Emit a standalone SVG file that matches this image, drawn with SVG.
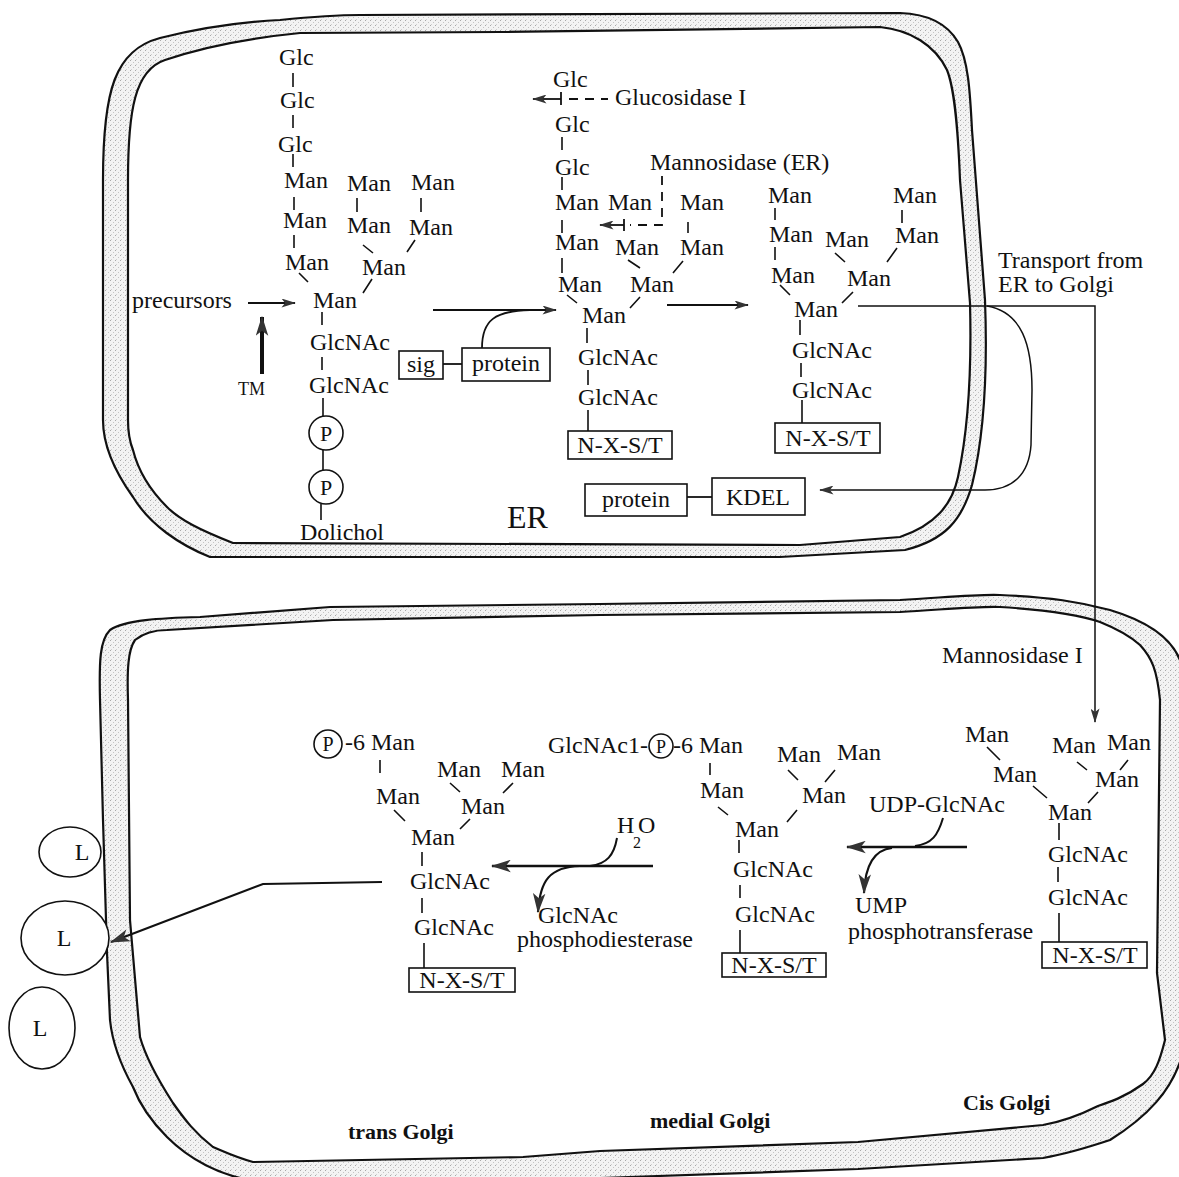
<svg xmlns="http://www.w3.org/2000/svg" width="1179" height="1177" viewBox="0 0 1179 1177">
<defs>
<style>
.t{font-family:"Liberation Serif","Times New Roman",serif;font-size:24px;fill:#111}
.s{font-size:22px}
.c{text-anchor:middle}
.bd{font-weight:bold;font-size:22px}
.b{stroke:#111;stroke-width:1.6;fill:none}
.box{fill:#fff;stroke:#111;stroke-width:1.6}
.ln{stroke:#111;stroke-width:1.8;fill:none}
.dash{stroke:#111;stroke-width:1.8;fill:none;stroke-dasharray:9,7}
.mem{stroke:#111;stroke-width:2.2}
</style>
<pattern id="stip" width="5" height="5" patternUnits="userSpaceOnUse">
<rect width="5" height="5" fill="#f3f3f3"/><rect x="0" y="0" width="1" height="1" fill="#a8a8a8"/><rect x="3" y="2" width="1" height="1" fill="#c4c4c4"/><rect x="1" y="4" width="1" height="1" fill="#d0d0d0"/>
</pattern>
<marker id="ah" viewBox="0 0 16 10" refX="15" refY="5" markerWidth="15" markerHeight="9" markerUnits="userSpaceOnUse" orient="auto">
<path d="M0,0 L16,5 L0,10 L4,5 z" fill="#333"/>
</marker>
<marker id="ahL" viewBox="0 0 16 10" refX="15" refY="5" markerWidth="20" markerHeight="13" markerUnits="userSpaceOnUse" orient="auto">
<path d="M0,0 L16,5 L0,10 L4,5 z" fill="#333"/>
</marker>
</defs>
<rect width="1179" height="1177" fill="#fff"/>

<g id="er-membrane">
<path class="mem" fill="url(#stip)" d="M103,420 L103,180 C103,90 115,50 160,38 C200,28 240,22 280,20 C310,17 330,15 360,15 L900,13 C930,14 948,25 958,42 C968,60 970,90 972,130 L985,300 C988,380 983,440 972,485 C962,520 945,540 905,550 L780,557 L210,557 C180,545 150,525 133,497 C110,465 103,440 103,420 Z"/>
<path class="mem" fill="#fff" d="M128,420 L128,180 C128,110 135,70 165,60 C200,48 250,38 300,33 L500,32 L880,27 C910,30 935,45 947,70 C955,90 958,130 960,180 L970,303 C972,380 966,440 958,477 C952,505 935,525 900,537 L800,545 L233,543 C200,530 180,520 167,507 C150,490 138,470 133,450 C129,440 128,430 128,420 Z"/>
</g>

<g id="golgi-membrane">
<path class="mem" fill="url(#stip)" d="M100,700 C99,660 100,640 110,630 C125,620 160,618 200,617 L330,607 L600,604 L900,600 C950,597 980,594 1000,595 C1050,597 1080,602 1110,610 C1150,622 1172,640 1180,660 L1195,700 L1195,1050 L1180,1062 C1170,1090 1150,1115 1110,1140 C1080,1150 1060,1155 1043,1158 L858,1169 L600,1178 L250,1180 C220,1175 190,1160 167,1137 C150,1120 140,1105 133,1087 C118,1060 112,1040 110,1020 L107,953 L103,820 Z"/>
<path class="mem" fill="#fff" d="M128,700 C127,670 128,650 135,640 C145,632 155,630 167,630 L333,620 L600,615 L900,612 C950,609 980,606 1000,607 C1050,610 1080,615 1100,622 C1120,630 1130,636 1140,645 C1152,658 1157,670 1160,700 L1157,973 L1165,1040 C1160,1060 1155,1075 1143,1084 C1125,1097 1110,1102 1098,1106 C1080,1115 1060,1122 1043,1125 L858,1142 L600,1151 L523,1157 L253,1162 C235,1157 225,1152 213,1147 C195,1133 185,1120 173,1103 C155,1075 145,1055 140,1037 L130,920 Z"/>
</g>

<g id="lysosomes">
<ellipse class="box" cx="70" cy="852" rx="31" ry="25"/><text class="t c" x="82" y="860">L</text>
<ellipse class="box" cx="65" cy="938" rx="44" ry="37"/><text class="t c" x="64" y="946">L</text>
<ellipse class="box" cx="42" cy="1028" rx="33" ry="41"/><text class="t c" x="40" y="1036">L</text>
</g>

<g id="connectors">
<line class="ln" x1="248" y1="303" x2="295" y2="303" marker-end="url(#ah)"/>
<line stroke="#111" stroke-width="4" x1="262" y1="374" x2="262" y2="317" marker-end="url(#ahL)"/>
<line class="ln" x1="433" y1="310" x2="556" y2="310" marker-end="url(#ah)"/>
<path class="ln" d="M482,348 C482,320 495,311 530,310"/>
<line class="ln" x1="443" y1="364" x2="462" y2="364"/>
<line class="ln" x1="561" y1="99" x2="533" y2="99" marker-end="url(#ah)"/>
<line class="ln" x1="561" y1="92" x2="561" y2="105"/>
<line class="dash" x1="569" y1="99" x2="608" y2="99"/>
<path class="dash" d="M662,176 L662,225 L630,225"/>
<line class="ln" x1="624" y1="219" x2="624" y2="231"/>
<line class="ln" x1="624" y1="225" x2="600" y2="225" marker-end="url(#ah)"/>
<line class="ln" x1="667" y1="305" x2="748" y2="305" marker-end="url(#ah)"/>
<path stroke="#111" stroke-width="1.5" fill="none" d="M858,306 L1095,306 L1095,722" marker-end="url(#ah)"/>
<path stroke="#111" stroke-width="1.5" fill="none" d="M987,306 C1022,312 1032,345 1032,390 L1031,445 C1029,475 1012,490 985,490 L820,490" marker-end="url(#ah)"/>
<line class="ln" x1="687" y1="497" x2="712" y2="497"/>
<line stroke="#111" stroke-width="2.4" x1="967" y1="847" x2="847" y2="847" marker-end="url(#ahL)"/>
<path stroke="#111" stroke-width="2" fill="none" d="M943,818 C938,835 932,844 915,846"/>
<path stroke="#111" stroke-width="2.2" fill="none" d="M892,848 C872,850 865,868 864,893" marker-end="url(#ahL)"/>
<line stroke="#111" stroke-width="2.4" x1="653" y1="866" x2="492" y2="866" marker-end="url(#ahL)"/>
<path stroke="#111" stroke-width="2" fill="none" d="M617,838 C614,855 607,864 590,866"/>
<path stroke="#111" stroke-width="2.2" fill="none" d="M580,866 C550,867 540,880 538,912" marker-end="url(#ahL)"/>
<polyline stroke="#111" stroke-width="2.2" fill="none" points="382,882 263,884 111,942" marker-end="url(#ahL)"/>
</g>

<g id="er-precursor">
<text class="t" x="279" y="65">Glc</text>
<text class="t" x="280" y="108">Glc</text>
<text class="t" x="278" y="152">Glc</text>
<text class="t" x="284" y="188">Man</text>
<text class="t" x="347" y="191">Man</text>
<text class="t" x="411" y="190">Man</text>
<text class="t" x="283" y="228">Man</text>
<text class="t" x="347" y="233">Man</text>
<text class="t" x="409" y="235">Man</text>
<text class="t" x="285" y="270">Man</text>
<text class="t" x="362" y="275">Man</text>
<text class="t" x="313" y="308">Man</text>
<text class="t" x="310" y="350">GlcNAc</text>
<text class="t" x="309" y="393">GlcNAc</text>
<circle class="box" cx="326" cy="433" r="17"/><text class="t c s" x="326" y="441">P</text>
<circle class="box" cx="326" cy="487" r="17"/><text class="t c s" x="326" y="495">P</text>
<text class="t" x="300" y="540">Dolichol</text>
<path class="b" d="M293,73V87 M293,115V128 M293,154V167 M294,197V210 M357,198V212 M421,198V212 M294,235V248 M363,245L373,253 M415,240L407,252 M299,273L308,282 M372,279L363,293 M322,312V325 M322,357V370 M323,398V416 M323,450V470 M321,504V520"/>
</g>
<g id="label-precursors"><text class="t" x="132" y="308">precursors</text></g>
<g id="label-tm"><text class="t" x="238" y="395" style="font-size:18px">TM</text></g>
<g id="sig"><rect class="box" x="399" y="351" width="44" height="28"/><text class="t c" x="421" y="372">sig</text></g>
<g id="protein-1"><rect class="box" x="462" y="348" width="88" height="33"/><text class="t c" x="506" y="371">protein</text></g>

<g id="er-glucosidase">
<text class="t" x="553" y="87">Glc</text>
<text class="t" x="615" y="105">Glucosidase I</text>
<text class="t" x="555" y="132">Glc</text>
<text class="t" x="555" y="175">Glc</text>
<text class="t" x="650" y="170">Mannosidase (ER)</text>
<text class="t" x="555" y="210">Man</text>
<text class="t" x="608" y="210">Man</text>
<text class="t" x="680" y="210">Man</text>
<text class="t" x="555" y="250">Man</text>
<text class="t" x="615" y="255">Man</text>
<text class="t" x="680" y="255">Man</text>
<text class="t" x="558" y="292">Man</text>
<text class="t" x="630" y="292">Man</text>
<text class="t" x="582" y="323">Man</text>
<text class="t" x="578" y="365">GlcNAc</text>
<text class="t" x="578" y="405">GlcNAc</text>
<path class="b" d="M562,137V150 M562,177V190 M562,220V233 M688,222V233 M562,258V273 M628,260L640,268 M683,261L673,273 M567,295L577,303 M640,297L630,308 M587,328V343 M588,370V385 M588,410V431"/>
<rect class="box" x="568" y="431" width="104" height="28"/><text class="t c" x="620" y="453">N-X-S/T</text>
</g>

<g id="er-trimmed">
<text class="t" x="768" y="203">Man</text>
<text class="t" x="893" y="203">Man</text>
<text class="t" x="769" y="242">Man</text>
<text class="t" x="825" y="247">Man</text>
<text class="t" x="895" y="243">Man</text>
<text class="t" x="771" y="283">Man</text>
<text class="t" x="847" y="286">Man</text>
<text class="t" x="794" y="317">Man</text>
<text class="t" x="792" y="358">GlcNAc</text>
<text class="t" x="792" y="398">GlcNAc</text>
<path class="b" d="M775,208V220 M902,210V223 M775,247V260 M835,253L845,262 M897,248L887,262 M780,285L790,295 M853,292L842,303 M800,320V335 M801,363V377 M802,400V423"/>
<rect class="box" x="775" y="423" width="105" height="30"/><text class="t c" x="828" y="446">N-X-S/T</text>
</g>
<g id="label-transport"><text class="t" x="998" y="268">Transport from</text><text class="t" x="998" y="292">ER to Golgi</text></g>
<g id="protein-2"><rect class="box" x="585" y="484" width="102" height="32"/><text class="t c" x="636" y="507">protein</text></g>
<g id="kdel"><rect class="box" x="712" y="478" width="93" height="37"/><text class="t c" x="758" y="505">KDEL</text></g>
<g id="label-er"><text class="t" x="507" y="528" style="font-size:32px">ER</text></g>

<g id="label-mannosidase-i"><text class="t" x="942" y="663">Mannosidase I</text></g>

<g id="trans-structure">
<circle class="box" cx="328" cy="744" r="14"/><text class="t c" x="328" y="751" style="font-size:20px">P</text>
<text class="t" x="345" y="750">-6 Man</text>
<text class="t" x="437" y="777">Man</text>
<text class="t" x="501" y="777">Man</text>
<text class="t" x="376" y="804">Man</text>
<text class="t" x="461" y="814">Man</text>
<text class="t" x="411" y="845">Man</text>
<text class="t" x="410" y="889">GlcNAc</text>
<text class="t" x="414" y="935">GlcNAc</text>
<path class="b" d="M380,760V773 M450,783L460,792 M513,783L503,793 M394,810L405,821 M470,819L460,829 M422,852V866 M422,898V913 M424,943V968"/>
<rect class="box" x="409" y="968" width="106" height="24"/><text class="t c" x="462" y="988">N-X-S/T</text>
</g>

<g id="label-h2o"><text class="t" x="617" y="833">H</text><text class="t" x="633" y="848" style="font-size:16px">2</text><text class="t" x="638" y="833">O</text></g>
<g id="label-phosphodiesterase"><text class="t" x="538" y="923">GlcNAc</text><text class="t" x="517" y="947">phosphodiesterase</text></g>

<g id="medial-structure">
<text class="t" x="648" y="753" style="text-anchor:end">GlcNAc1-</text>
<circle class="box" cx="661" cy="746" r="12"/><text class="t c" x="661" y="753" style="font-size:18px">P</text>
<text class="t" x="673" y="753">-6 Man</text>
<text class="t" x="700" y="798">Man</text>
<text class="t" x="777" y="762">Man</text>
<text class="t" x="837" y="760">Man</text>
<text class="t" x="802" y="803">Man</text>
<text class="t" x="735" y="837">Man</text>
<text class="t" x="733" y="877">GlcNAc</text>
<text class="t" x="735" y="922">GlcNAc</text>
<path class="b" d="M710,763V775 M788,770L798,780 M835,770L825,782 M718,807L728,815 M797,810L787,822 M739,840V853 M740,885V898 M740,930V953"/>
<rect class="box" x="722" y="953" width="104" height="24"/><text class="t c" x="774" y="973">N-X-S/T</text>
</g>

<g id="label-udp"><text class="t" x="869" y="812">UDP-GlcNAc</text></g>
<g id="label-phosphotransferase"><text class="t" x="855" y="913">UMP</text><text class="t" x="848" y="939">phosphotransferase</text></g>

<g id="cis-structure">
<text class="t" x="965" y="742">Man</text>
<text class="t" x="993" y="782">Man</text>
<text class="t" x="1052" y="753">Man</text>
<text class="t" x="1107" y="750">Man</text>
<text class="t" x="1095" y="787">Man</text>
<text class="t" x="1048" y="820">Man</text>
<text class="t" x="1048" y="862">GlcNAc</text>
<text class="t" x="1048" y="905">GlcNAc</text>
<path class="b" d="M987,747L1000,760 M1033,786L1047,798 M1077,762L1087,770 M1128,760L1120,770 M1098,792L1088,803 M1059,823V840 M1058,867V882 M1059,913V942"/>
<rect class="box" x="1042" y="942" width="105" height="26"/><text class="t c" x="1095" y="963">N-X-S/T</text>
</g>

<g id="golgi-labels">
<text class="t bd" x="348" y="1139">trans Golgi</text>
<text class="t bd" x="650" y="1128">medial Golgi</text>
<text class="t bd" x="963" y="1110">Cis Golgi</text>
</g>
</svg>
